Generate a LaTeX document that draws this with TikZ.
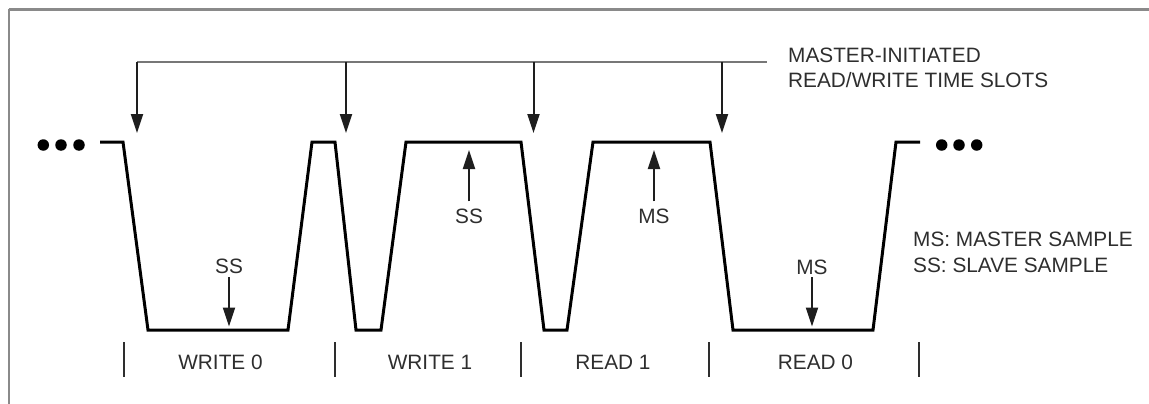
\documentclass[tikz,border=0pt]{standalone}
\usepackage{fontspec}
\setmainfont{Liberation Sans}
\usetikzlibrary{arrows.meta}
\definecolor{txt}{HTML}{2E2E2E}
\definecolor{framec}{HTML}{8A8A8A}
\definecolor{busc}{HTML}{777777}
\definecolor{arrc}{HTML}{1E1E1E}
\begin{document}
\begin{tikzpicture}[x=1pt,y=-1pt,
  lbl/.style={font=\fontsize{20.8}{25.5}\selectfont, text=txt, inner sep=0pt},
  wave/.style={line width=3pt, line join=miter, draw=black},
  arr/.style={line width=2pt, draw=arrc, -{Triangle[length=19pt,width=12pt]}},
  busline/.style={line width=2pt, draw=busc},
  tickmark/.style={line width=2pt, draw=txt},
  dotc/.style={circle, fill=black, inner sep=0pt, minimum size=11.5pt}]
\useasboundingbox (0,0) rectangle (1149,404);
% frame
\draw[framec, line width=3.5pt] (8.5,9.5) -- (1149,9.5);
\draw[framec, line width=2pt] (8.5,9.5) -- (8.5,404);

% waveform
\coordinate (w0) at (100,142);
\coordinate (w1) at (123,142);
\coordinate (w2) at (148,330);
\coordinate (w3) at (288,330);
\coordinate (w4) at (312,142);
\coordinate (w5) at (335,142);
\coordinate (w6) at (356,330);
\coordinate (w7) at (381,330);
\coordinate (w8) at (406,142);
\coordinate (w9) at (521,142);
\coordinate (w10) at (544,330);
\coordinate (w11) at (567,330);
\coordinate (w12) at (593,142);
\coordinate (w13) at (710,142);
\coordinate (w14) at (733,330);
\coordinate (w15) at (873,330);
\coordinate (w16) at (896,142);
\coordinate (w17) at (920,142);
\draw[wave] (w0) -- (w1) -- (w2) -- (w3) -- (w4) -- (w5) -- (w6) -- (w7) -- (w8)
  -- (w9) -- (w10) -- (w11) -- (w12) -- (w13) -- (w14) -- (w15) -- (w16) -- (w17);

% continuation dots
\node[dotc] (dl1) at (43.3,145) {};
\node[dotc] (dl2) at (61,145) {};
\node[dotc] (dl3) at (79,145) {};
\node[dotc] (dr1) at (941.7,145) {};
\node[dotc] (dr2) at (959,145) {};
\node[dotc] (dr3) at (976.7,145) {};

% master-initiated time slots bus
\node[lbl, anchor=north west, align=left] (slots) at (788,47.5)
  {MASTER-INITIATED\\READ/WRITE TIME SLOTS};
\coordinate (b0) at (137,62);
\coordinate (b1) at (346,62);
\coordinate (b2) at (533.5,62);
\coordinate (b3) at (722,62);
\coordinate (bend) at (767,62);
\draw[busline] (b0) -- (bend);
\coordinate (t0) at (137,133);
\coordinate (t1) at (346,133);
\coordinate (t2) at (533.5,133);
\coordinate (t3) at (722,133);
\draw[arr] (b0) -- (t0);
\draw[arr] (b1) -- (t1);
\draw[arr] (b2) -- (t2);
\draw[arr] (b3) -- (t3);

% sample labels and arrows
\node[lbl, anchor=base] (ss1) at (229,273) {SS};
\coordinate (ss1t) at (229,326.5);
\draw[arr, shorten <=4pt] (ss1.south) -- (ss1t);

\node[lbl, anchor=base] (ss2) at (469,223) {SS};
\coordinate (ss2t) at (469,150);
\draw[arr, shorten <=7pt] (ss2.north) -- (ss2t);

\node[lbl, anchor=base] (ms1) at (654,223) {MS};
\coordinate (ms1t) at (654,150);
\draw[arr, shorten <=7pt] (ms1.north) -- (ms1t);

\node[lbl, anchor=base] (ms2) at (812,274) {MS};
\coordinate (ms2t) at (812,326.5);
\draw[arr, shorten <=3pt] (ms2.south) -- (ms2t);

% legend
\node[lbl, anchor=base west] (leg1) at (913,246.5) {MS: MASTER SAMPLE};
\node[lbl, anchor=base west] (leg2) at (913,272.5) {SS: SLAVE SAMPLE};

% slot boundaries
\foreach \x/\n in {124/k0,335/k1,521/k2,709.3/k3,919.3/k4} {
  \coordinate (\n a) at (\x,342);
  \coordinate (\n b) at (\x,377);
  \draw[tickmark] (\n a) -- (\n b);
}

% slot labels
\node[lbl, anchor=base] (wr0) at (220.5,369) {WRITE 0};
\node[lbl, anchor=base] (wr1) at (430,369) {WRITE 1};
\node[lbl, anchor=base] (rd1) at (613,369) {READ 1};
\node[lbl, anchor=base] (rd0) at (815.5,369) {READ 0};
\end{tikzpicture}
\end{document}
